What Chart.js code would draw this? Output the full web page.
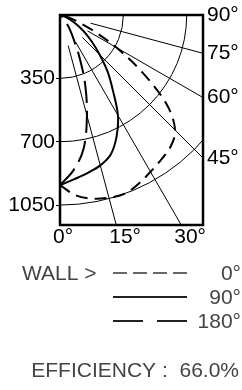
<!DOCTYPE html>
<html><head><meta charset="utf-8">
<style>html,body{margin:0;padding:0;background:#fff;}canvas{display:block;}</style>
<script src="https://cdn.jsdelivr.net/npm/chart.js@4/dist/chart.umd.min.js"></script>
</head><body>
<canvas id="c" width="242" height="390"></canvas>
<script>
// ---- data (candela per angle from nadir, 5° steps) ----
const angles  = [0,5,10,15,20,25,30,35,40,45,50,55,60,65,70,75,80,85,90];
const wall0   = [940,1000,1030,1045,1050,1028,1000,975,950,900,770,560,360,195,95,45,20,5,0];
const wall90  = [940,910,885,860,820,740,640,510,410,310,230,165,110,65,35,15,5,0,0];
const wall180 = [940,860,750,575,405,250,145,90,50,30,15,5,0,0,0,0,0,0,0];
const planeLabels = ['0°','90°','180°'];
const ringValues = [350,700,1050];
const rayAngles = [15,30,45,60,75,90];
const bottomAngles = [0,15,30];
const bottomAngleLabels = ['0°','15°','30°'];
const sideAngles = [90,75,60,45];
const sideAngleLabels = ['90°','75°','60°','45°'];
const legendTitle = 'WALL >';
const efficiencyText = 'EFFICIENCY :  66.0%';

const XMAX = 790, YMAX = 1160;
const RAD = Math.PI/180;
const FONT = 'Liberation Sans, Arial, sans-serif';

function toPoints(vals){
  return angles.map((a,i)=>({x: vals[i]*Math.sin(a*RAD), y: vals[i]*Math.cos(a*RAD)}));
}

const gridPlugin = {
  id:'polarGrid',
  beforeDatasetsDraw(chart){
    const {ctx, chartArea:a, scales:{x,y}} = chart;
    const ox = x.getPixelForValue(0), oy = y.getPixelForValue(0);
    const k = (x.getPixelForValue(1000)-ox)/1000;
    ctx.save();
    ctx.beginPath(); ctx.rect(a.left,a.top,a.right-a.left,a.bottom-a.top); ctx.clip();
    ctx.strokeStyle='#000'; ctx.lineWidth=1;
    ringValues.forEach(v=>{ctx.beginPath();ctx.arc(ox,oy,v*k,0,Math.PI/2);ctx.stroke();});
    rayAngles.forEach(t=>{
      const s=Math.sin(t*RAD), c=Math.cos(t*RAD);
      ctx.beginPath();
      ctx.moveTo(ox+175*k*s, oy+175*k*c);
      ctx.lineTo(ox+3000*k*s, oy+3000*k*c);
      ctx.stroke();
    });
    ctx.restore();
  },
  afterDatasetsDraw(chart){
    const {ctx, chartArea:a} = chart;
    ctx.save(); ctx.strokeStyle='#000'; ctx.lineWidth=2.5;
    ctx.strokeRect(a.left,a.top,a.right-a.left,a.bottom-a.top);
    ctx.restore();
  },
  afterDraw(chart){
    const ctx = chart.ctx;
    ctx.save();
    ctx.font = '21px '+FONT; ctx.fillStyle='#444'; ctx.textBaseline='middle';
    ctx.textAlign='left'; ctx.fillText(legendTitle,22,274);
    const rowsY=[273,297,321], dashes=[[14,6],[],[30,14]], cols=['#666','#222','#222'];
    rowsY.forEach((yy,i)=>{
      ctx.strokeStyle=cols[i]; ctx.lineWidth=2; ctx.setLineDash(dashes[i]);
      ctx.beginPath(); ctx.moveTo(113,yy); ctx.lineTo(187,yy); ctx.stroke();
      ctx.textAlign='right'; ctx.fillText(chart.data.datasets[i].label,241,yy+1);
    });
    ctx.setLineDash([]);
    ctx.textAlign='right'; ctx.fillText(efficiencyText,239,371);
    ctx.restore();
  }
};

const tickFont = {family:FONT, size:21, lineHeight:1};

new Chart(document.getElementById('c'),{
  type:'scatter',
  data:{datasets:[
    {label:planeLabels[0], data:toPoints(wall0), borderColor:'#000', borderWidth:2, borderDash:[12,7], showLine:true, pointRadius:0, tension:0.35},
    {label:planeLabels[1], data:toPoints(wall90), borderColor:'#000', borderWidth:2, showLine:true, pointRadius:0, tension:0.35},
    {label:planeLabels[2], data:toPoints(wall180), borderColor:'#000', borderWidth:2, borderDash:[22,8], showLine:true, pointRadius:0, tension:0.35}
  ]},
  options:{
    responsive:false, animation:false, devicePixelRatio:1,
    layout:{padding:{top:15,left:0,right:0,bottom:0}},
    plugins:{legend:{display:false}, tooltip:{enabled:false}, title:{display:false}},
    scales:{
      x:{type:'linear', position:'bottom', min:0, max:XMAX,
        afterBuildTicks:s=>{s.ticks=bottomAngles.map(t=>({value:YMAX*Math.tan(t*RAD)}));},
        afterFit:s=>{s.height=165;},
        grid:{display:true, drawOnChartArea:false, drawTicks:false}, border:{display:false},
        ticks:{autoSkip:false, maxRotation:0, align:'start', labelOffset:-7, padding:2, color:'#000', font:tickFont,
          callback:(v,i)=>bottomAngleLabels[i]}},
      y:{type:'linear', position:'left', reverse:true, min:0, max:YMAX,
        afterBuildTicks:s=>{s.ticks=ringValues.map(v=>({value:v}));},
        afterFit:s=>{s.width=60;},
        grid:{display:true, drawOnChartArea:false, drawTicks:true, tickLength:4, color:'#000', lineWidth:1},
        border:{display:false},
        ticks:{padding:1, color:'#000', font:tickFont, callback:v=>String(v)}},
      y2:{type:'linear', position:'right', reverse:true, min:0, max:YMAX,
        afterBuildTicks:s=>{s.ticks=sideAngles.map(t=>({value:XMAX*Math.cos(t*RAD)/Math.sin(t*RAD)}));},
        afterFit:s=>{s.width=39;},
        grid:{display:true, drawOnChartArea:false, drawTicks:false}, border:{display:false},
        ticks:{padding:4, crossAlign:'near', color:'#000', font:tickFont, callback:(v,i)=>sideAngleLabels[i]}}
    }
  },
  plugins:[gridPlugin]
});
</script>
</body></html>
